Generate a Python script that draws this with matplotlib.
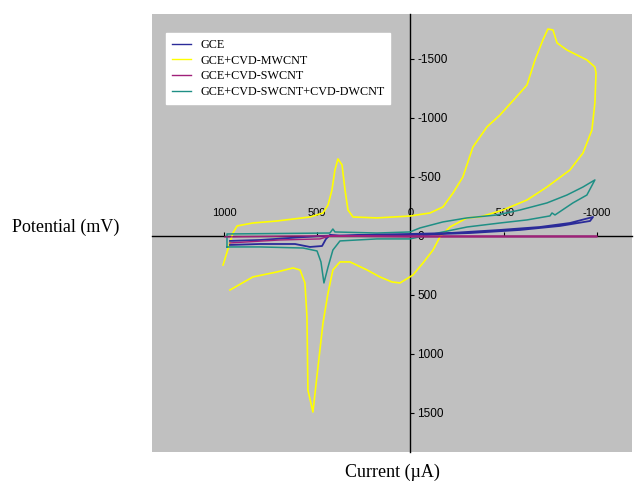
import matplotlib
matplotlib.use("Agg")
import matplotlib.pyplot as plt
import numpy as np

# ---- data (potential in mV on horizontal axis, current in uA on vertical axis) ----
gce_potential = [968, 807, 646, 485, 271, 3, -212, -480, -694, -855, -979,
                 -963, -802, -587, -319, 3, 378, 432, 453, 474, 539, 619, 807, 968]
gce_current = [42, 34, 17, 0, -8, -17, -25, -51, -76, -110, -161,
               -127, -85, -51, -25, -8, 0, -8, 25, 85, 93, 68, 68, 76]

mw_potential = [1005, 952, 930, 845, 716, 539, 469, 442, 421, 405, 389, 367, 351, 335,
                308, 180, 3, -105, -174, -228, -281, -335, -410, -480, -587, -625,
                -668, -710, -737, -764, -786, -839, -946, -989, -995, -989, -973,
                -925, -855, -732, -625, -496, -373, -303, -212, -158, -121, -67, -13,
                3, 56, 99, 164, 233, 324, 378, 416, 442, 469, 496, 523, 550, 555, 566,
                592, 630, 716, 845, 968]
mw_current = [246, -25, -85, -110, -127, -161, -195, -263, -390, -559, -653, -602, -390,
              -220, -161, -153, -169, -195, -246, -364, -500, -754, -924, -1025, -1212,
              -1280, -1492, -1661, -1754, -1746, -1636, -1576, -1492, -1432, -1381,
              -1127, -898, -703, -559, -415, -305, -220, -161, -153, -76, 8, 119, 229,
              331, 347, 398, 390, 347, 288, 220, 220, 288, 483, 737, 1110, 1492, 1305,
              686, 398, 288, 271, 305, 347, 458]

sw_potential = [995, 592, 3, -1000, -1000, 3, 432, 485, 700, 968]
sw_current = [8, 0, 0, 0, 8, 8, 0, 25, 34, 59]

dw_potential = [984, 807, 576, 501, 480, 464, 442, 416, 378, 180, 3, -174, -303, -480,
                -625, -748, -759, -775, -871, -946, -989, -925, -839, -732, -587, -464,
                -303, -174, -51, 3, 180, 405, 416, 432, 984, 984]
dw_current = [93, 93, 102, 127, 220, 398, 263, 119, 42, 25, 25, -34, -76, -110, -136,
              -170, -195, -178, -280, -347, -475, -415, -347, -280, -220, -178, -153,
              -119, -68, -34, -25, -34, -59, -25, -17, 93]

labels = ["GCE", "GCE+CVD-MWCNT", "GCE+CVD-SWCNT", "GCE+CVD-SWCNT+CVD-DWCNT"]
colors = ["#2b2b99", "#ffff00", "#a0207a", "#1f8f85"]

x_ticks = [1000, 500, 0, -500, -1000]
x_ticklabels = ["1000", "500", "0", "-500", "-1000"]
y_ticks = [-1500, -1000, -500, 0, 500, 1000, 1500]
y_ticklabels = ["-1500", "-1000", "-500", "0", "500", "1000", "1500"]

fig = plt.figure(figsize=(6.43, 4.82), dpi=100)
ax = fig.add_axes([0.2364, 0.0622, 0.7465, 0.9087])
ax.set_facecolor("#c0c0c0")

l_gce, = ax.plot(gce_potential, gce_current, color=colors[0], lw=1.3, zorder=4)
l_mw, = ax.plot(mw_potential, mw_current, color=colors[1], lw=1.2, zorder=3)
l_sw, = ax.plot(sw_potential, sw_current, color=colors[2], lw=1.0, zorder=5)
l_dw, = ax.plot(dw_potential, dw_current, color=colors[3], lw=1.1, zorder=3)

ax.set_xlim(1386, -1188)
ax.set_ylim(1831, -1881)

for s in ["left", "bottom"]:
    ax.spines[s].set_visible(False)
ax.spines["top"].set_position(("data", 0))
ax.spines["right"].set_position(("data", 0))
for s in ["top", "right"]:
    ax.spines[s].set_color("black")
    ax.spines[s].set_linewidth(1.0)
    ax.spines[s].set_zorder(2)

ax.xaxis.tick_top()
ax.yaxis.tick_right()
ax.set_xticks(x_ticks)
ax.set_xticklabels(x_ticklabels)
ax.set_yticks(y_ticks)
ax.set_yticklabels(y_ticklabels)
ax.tick_params(axis="x", direction="out", length=3, pad=10, labelsize=8,
               labelfontfamily="Liberation Sans")
ax.tick_params(axis="y", direction="out", length=3, pad=2, labelsize=8.5,
               labelfontfamily="Liberation Sans")

leg = ax.legend([l_gce, l_mw, l_sw, l_dw], labels, loc="upper left",
                bbox_to_anchor=(0.029, 0.9566), borderaxespad=0,
                prop={"family": "Liberation Serif", "size": 8.7},
                frameon=True, fancybox=False, framealpha=1, edgecolor="white",
                handlelength=1.57, handletextpad=0.75, labelspacing=0.3,
                borderpad=0.5)
for h in leg.get_lines():
    h.set_linewidth(1.0)

fig.text(0.0187, 0.529, "Potential (mV)", ha="left", va="center",
         family="Liberation Serif", fontsize=13)
fig.text(0.611, 0.021, "Current (\u00b5A)", ha="center", va="center",
         family="Liberation Serif", fontsize=13)

fig.savefig("out.png", dpi=100)
